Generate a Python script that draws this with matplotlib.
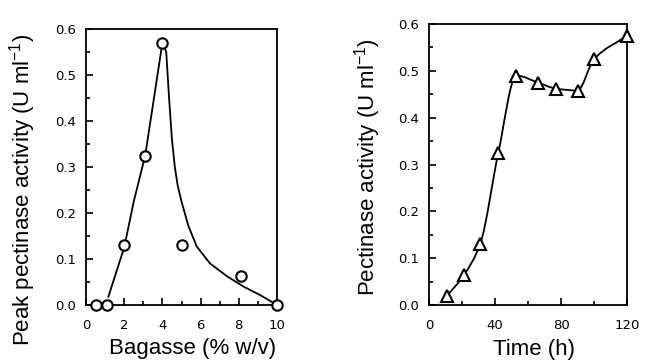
import matplotlib
matplotlib.use("Agg")
import matplotlib.pyplot as plt
from matplotlib.path import Path
from matplotlib.patches import PathPatch
from matplotlib.ticker import MultipleLocator
import numpy as np

# ---- Left panel data (bagasse concentration) ----
bagasse = [0.5, 1.1, 2.0, 3.1, 4.0, 5.05, 8.1, 10.0]
peak_activity = [0.0, 0.0, 0.13, 0.325, 0.57, 0.13, 0.062, 0.0]
# fitted curve as drawn in the figure
fit_x = [1.17, 2.0, 2.5, 3.1, 4.0, 4.2, 4.35, 4.5, 4.65, 4.8, 5.0, 5.36, 5.8, 6.5, 7.4, 8.25, 9.1, 10.0]
fit_y = [0.018, 0.125, 0.225, 0.325, 0.57, 0.55, 0.45, 0.36, 0.30, 0.26, 0.225, 0.172, 0.127, 0.09, 0.062, 0.04, 0.022, 0.0]

# ---- Right panel data (time course) ----
time_h = [11, 21, 31, 42, 53, 66, 77, 90, 100, 120]
activity = [0.02, 0.063, 0.13, 0.325, 0.49, 0.475, 0.462, 0.458, 0.525, 0.575]

plt.rcParams['font.family'] = ['Liberation Sans', 'DejaVu Sans']
plt.rcParams['mathtext.default'] = 'regular'

fig = plt.figure(figsize=(6.46, 3.63), dpi=100)
axL = fig.add_axes([86/646, 1-305/363, 191/646, 276/363])
axR = fig.add_axes([429/646, 1-305/363, 198/646, 281/363])


def style(ax):
    for s in ax.spines.values():
        s.set_linewidth(1.3)
    ax.tick_params(which='both', direction='in', width=1.2, labelsize=9.5)
    ax.tick_params(axis='x', which='major', pad=10)
    ax.tick_params(axis='y', which='major', pad=7)
    ax.tick_params(which='major', length=5)
    ax.tick_params(which='minor', length=3)
    for lab in ax.get_xticklabels() + ax.get_yticklabels():
        lab.set_family('DejaVu Sans')


def smooth_path(xs, ys, ax):
    # monotone (Fritsch-Carlson) cubic Hermite as Bezier segments in data coords
    xs = np.asarray(xs, float); ys = np.asarray(ys, float)
    n = len(xs)
    h = np.diff(xs)
    d = np.diff(ys) / h
    m = np.zeros(n)
    m[0] = d[0]; m[-1] = d[-1]
    for i in range(1, n - 1):
        if d[i-1] * d[i] <= 0:
            m[i] = 0.0
        else:
            w1 = 2*h[i] + h[i-1]; w2 = h[i] + 2*h[i-1]
            m[i] = (w1 + w2) / (w1/d[i-1] + w2/d[i])
    verts = [(xs[0], ys[0])]
    codes = [Path.MOVETO]
    for i in range(n - 1):
        c1 = (xs[i] + h[i]/3, ys[i] + m[i]*h[i]/3)
        c2 = (xs[i+1] - h[i]/3, ys[i+1] - m[i+1]*h[i]/3)
        verts += [c1, c2, (xs[i+1], ys[i+1])]
        codes += [Path.CURVE4] * 3
    patch = PathPatch(Path(verts, codes), facecolor='none', edgecolor='black', lw=1.3, zorder=2)
    ax.add_patch(patch)


# Left panel
axL.plot(fit_x, fit_y, color='black', lw=1.3, zorder=2)
axL.plot(bagasse, peak_activity, linestyle='none', marker='o', ms=7.5,
         mfc='white', mec='black', mew=1.5, zorder=3, clip_on=False)
axL.set_xlim(0, 10)
axL.set_ylim(0, 0.6)
axL.set_xticks([0, 2, 4, 6, 8, 10])
axL.set_xticklabels(['0', '2', '4', '6', '8', '10'])
axL.xaxis.set_minor_locator(MultipleLocator(1))
axL.set_yticks([0, 0.1, 0.2, 0.3, 0.4, 0.5, 0.6])
axL.set_yticklabels(['0.0', '0.1', '0.2', '0.3', '0.4', '0.5', '0.6'])
axL.yaxis.set_minor_locator(MultipleLocator(0.05))
style(axL)
axL.set_xlabel('Bagasse (% w/v)', fontsize=16)
axL.set_ylabel('Peak pectinase activity (U ml$^{-1}$)', fontsize=16)
axL.xaxis.set_label_coords(0.558, -0.12)
axL.yaxis.set_label_coords(-0.251, 0.418)

# Right panel
smooth_path(time_h, activity, axR)
axR.plot(time_h, activity, linestyle='none', marker='^', ms=8,
         mfc='white', mec='black', mew=1.5, zorder=3, clip_on=False)
axR.set_xlim(0, 120)
axR.set_ylim(0, 0.6)
axR.set_xticks([0, 40, 80, 120])
axR.set_xticklabels(['0', '40', '80', '120'])
axR.xaxis.set_minor_locator(MultipleLocator(20))
axR.set_yticks([0, 0.1, 0.2, 0.3, 0.4, 0.5, 0.6])
axR.set_yticklabels(['0.0', '0.1', '0.2', '0.3', '0.4', '0.5', '0.6'])
axR.yaxis.set_minor_locator(MultipleLocator(0.05))
style(axR)
axR.set_xlabel('Time (h)', fontsize=16)
axR.set_ylabel('Pectinase activity (U ml$^{-1}$)', fontsize=16)
axR.xaxis.set_label_coords(0.528, -0.121)
axR.yaxis.set_label_coords(-0.233, 0.49)

fig.savefig('out.png', dpi=100)
